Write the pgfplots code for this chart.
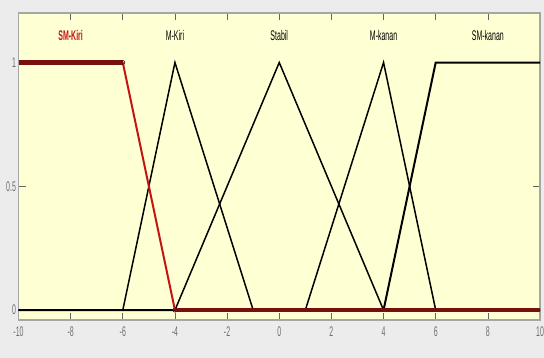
\documentclass[border=0pt]{standalone}
\usepackage{fontspec}
\setmainfont{Liberation Sans}
\newfontfamily\cond[FakeStretch=0.5]{Liberation Sans}
\usepackage{pgfplots}
\pgfplotsset{compat=1.18}
\definecolor{bgyellow}{RGB}{255,255,212}
\definecolor{outgray}{RGB}{236,236,236}
\definecolor{selred}{RGB}{195,20,20}
\definecolor{darkred}{RGB}{120,15,15}
\definecolor{ticklab}{RGB}{110,110,110}
\begin{document}
\begin{tikzpicture}
\useasboundingbox (0,0) rectangle (544pt,358pt);
\fill[outgray] (0,0) rectangle (544pt,358pt);
\begin{axis}[
  at={(18.5pt,38pt)}, anchor=south west,
  scale only axis, width=521.5pt, height=307pt,
  xmin=-10, xmax=10, ymin=-0.04, ymax=1.2,
  xtick={-10,-8,...,10}, ytick={0,0.5,1},
  tick align=inside,
  major tick length=7pt,
  tick style={gray!80!black, line width=0.7pt},
  axis line style={gray!70, line width=1.2pt},
  axis background/.style={fill=bgyellow},
  /pgf/number format/assume math mode=true,
  tick label style={font=\cond\fontsize{14}{14}\selectfont, text=ticklab},
  xticklabel style={yshift=-3pt},
  yticklabel style={xshift=1pt},
  clip=true,
]
% black membership functions
\addplot[black, line width=1.5pt] coordinates {(-10,0) (-6,0) (-4,1) (-1,0) (10,0)};
\addplot[black, line width=1.5pt] coordinates {(-10,0) (-4,0) (0,1) (4,0) (10,0)};
\addplot[black, line width=1.5pt] coordinates {(-10,0) (1,0) (4,1) (6,0) (10,0)};
\addplot[black, line width=2pt] coordinates {(-10,0) (4,0) (6,1) (10,1)};
% selected SM-Kiri
\addplot[selred, line width=2pt] coordinates {(-6,1) (-4,0)};
\addplot[darkred, line width=4.5pt] coordinates {(-10,1) (-6,1)};
\addplot[darkred, line width=4.5pt] coordinates {(-4,0) (10,0)};
\addplot[only marks, mark=o, mark size=2pt, darkred, line width=0.8pt] coordinates {(-6,1) (-4,0)};
% labels
\node[text=selred, font=\cond\bfseries\fontsize{14}{14}\selectfont] at (axis cs:-8,1.11) {SM-Kiri};
\node[font=\cond\fontsize{14}{14}\selectfont] at (axis cs:-4,1.11) {M-Kiri};
\node[font=\cond\fontsize{14}{14}\selectfont] at (axis cs:0,1.11) {Stabil};
\node[font=\cond\fontsize{14}{14}\selectfont] at (axis cs:4,1.11) {M-kanan};
\node[font=\cond\fontsize{14}{14}\selectfont] at (axis cs:8,1.11) {SM-kanan};
\end{axis}
\end{tikzpicture}
\end{document}
